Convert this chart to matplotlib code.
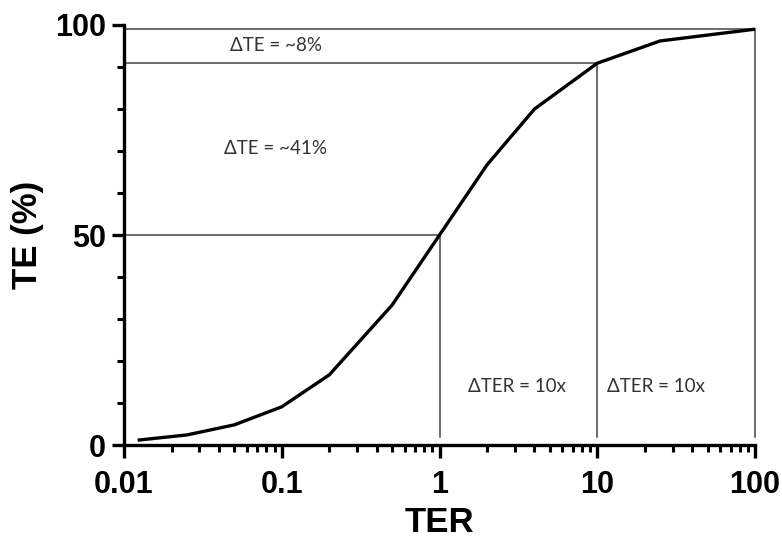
import matplotlib
matplotlib.use("Agg")
import matplotlib.pyplot as plt
from matplotlib.ticker import LogLocator, FixedLocator, NullFormatter

ter = [0.0125, 0.025, 0.05, 0.1, 0.2, 0.5, 1, 2, 4, 10, 25, 100]
te = [1.2, 2.4, 4.8, 9.1, 16.7, 33.3, 50, 66.7, 80, 90.9, 96.2, 99]

ref_ter = [1, 10, 100]
ref_te = [50, 90.9, 99]

x_ticks = [0.01, 0.1, 1, 10, 100]
x_labels = ["0.01", "0.1", "1", "10", "100"]
y_ticks = [0, 50, 100]
y_labels = ["0", "50", "100"]

fig = plt.figure(figsize=(7.82, 5.41), dpi=100)
ax = fig.add_axes([0.1586, 0.1774, 0.8069, 0.7764])
ax.set_xscale("log")
ax.set_xlim(0.01, 100)
ax.set_ylim(0, 100)

# reference lines
thin = dict(color="#444444", lw=1.1, zorder=2)
for xv, yv in zip(ref_ter, ref_te):
    ax.plot([0.01, xv], [yv, yv], **thin, clip_on=False)
    ax.plot([xv, xv], [1.8, yv], **thin, clip_on=False)

ax.plot(ter, te, color="black", lw=2.4, zorder=3, solid_joinstyle="round")

for s in ["top", "right"]:
    ax.spines[s].set_visible(False)
for s in ["left", "bottom"]:
    ax.spines[s].set_linewidth(2.4)

ax.xaxis.set_major_locator(FixedLocator(x_ticks))
ax.set_xticklabels(x_labels)
ax.xaxis.set_minor_locator(LogLocator(base=10, subs=range(2, 10)))
ax.xaxis.set_minor_formatter(NullFormatter())
ax.yaxis.set_major_locator(FixedLocator(y_ticks))
ax.set_yticklabels(y_labels)
ax.yaxis.set_minor_locator(FixedLocator([10, 20, 30, 40, 60, 70, 80, 90]))

ax.tick_params(which="major", length=9, width=2.4, labelsize=22)
ax.tick_params(axis="x", which="major", pad=9)
ax.tick_params(axis="y", which="major", pad=4)
ax.tick_params(which="minor", length=5, width=2.2)
for lab in ax.get_xticklabels() + ax.get_yticklabels():
    lab.set_fontweight("bold")
    lab.set_fontfamily("Liberation Sans")

ax.set_xlabel("TER", fontsize=25, fontweight="bold", family="Liberation Sans", labelpad=4)
ax.set_ylabel("TE (%)", fontsize=25, fontweight="bold", family="Liberation Sans", labelpad=8)

tk = dict(fontsize=13.5, color="#333333", family="Lato", ha="center", va="center")
ax.text(0.0916, 95.0, "ΔTE = ~8%", **tk)
ax.text(0.0916, 70.5, "ΔTE = ~41%", **tk)
ax.text(3.1, 14.0, "ΔTER = 10x", **tk)
ax.text(23.5, 14.0, "ΔTER = 10x", **tk)

fig.savefig("out.png", dpi=100)
